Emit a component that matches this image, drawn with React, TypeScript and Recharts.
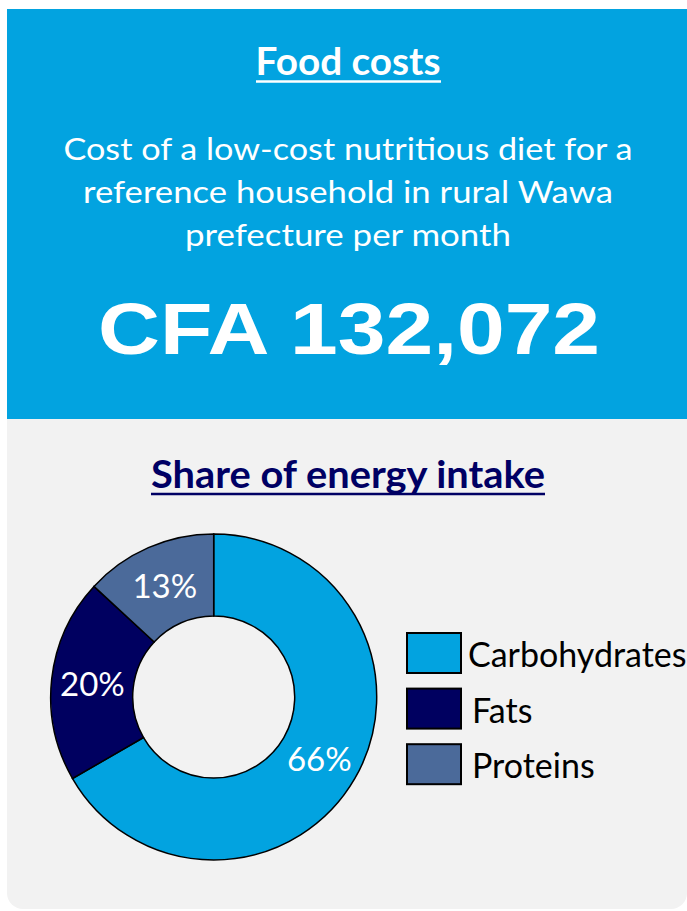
import { PieChart, Pie, Cell, Legend } from 'recharts';

const categories = ['Carbohydrates', 'Fats', 'Proteins'];
const shares = [66, 20, 13];
const sliceColors = ['#02A3E0', '#000060', '#4B6A9A'];

const headline = 'Food costs';
const subtitleLines = [
  'Cost of a low-cost nutritious diet for a',
  'reference household in rural Wawa',
  'prefecture per month',
];
const costLabel = 'CFA 132,072';
const chartTitle = 'Share of energy intake';

const BLUE = '#02A3E0';
const GREY = '#F2F2F2';
const NAVY = '#000064';
const FONT = 'Lato, "Open Sans", sans-serif';
const RAD = Math.PI / 180;

const chartData = categories.map((name, i) => ({ name, value: shares[i] }));

function renderLabel(props: any) {
  const { cx, cy, midAngle, innerRadius, outerRadius, value } = props;
  const r = (innerRadius + outerRadius) / 2;
  const x = cx + r * Math.cos(-midAngle * RAD);
  const y = cy + r * Math.sin(-midAngle * RAD);
  return (
    <text x={x} y={y} fill="#fff" textAnchor="middle" dominantBaseline="central"
      fontFamily={FONT} fontSize={33}>
      {`${value}%`}
    </text>
  );
}

function LegendBoxes(props: any) {
  const items = props.payload || [];
  return (
    <svg width={290} height={180}>
      {items.map((item: any, i: number) => (
        <g key={item.value} transform={`translate(2, ${2 + i * 55.6})`}>
          <rect width={54} height={40} fill={item.color} stroke="#000" strokeWidth={2} />
          <text x={i === 0 ? 61 : 65} y={34} fontFamily={FONT} fontSize={34} fill="#000">
            {item.value}
          </text>
        </g>
      ))}
    </svg>
  );
}

export default function App() {
  return (
    <div style={{ position: 'absolute', left: 7, top: 9, width: 680, fontFamily: FONT }}>
      <div style={{ width: 680, height: 410, background: BLUE }}>
        <svg width={680} height={410}>
          <text x={341} y={66} textAnchor="middle" fill="#fff" fontFamily={FONT}
            fontWeight={700} fontSize={38} textLength={185} lengthAdjust="spacingAndGlyphs">
            {headline}
          </text>
          <line x1={249} x2={434} y1={72.5} y2={72.5} stroke="#fff" strokeWidth={2.5} />
          {subtitleLines.map((line, i) => (
            <text key={line} x={341} y={150.5 + i * 43} textAnchor="middle" fill="#fff"
              fontFamily={FONT} fontSize={30}
              textLength={[569, 530, 326][i]} lengthAdjust="spacingAndGlyphs">
              {line}
            </text>
          ))}
          <text x={342} y={345} textAnchor="middle" fill="#fff"
            fontFamily='"Liberation Sans", Arial, sans-serif' fontWeight={700} fontSize={73}
            textLength={502} lengthAdjust="spacingAndGlyphs">
            {costLabel}
          </text>
        </svg>
      </div>
      <div style={{
        position: 'relative', width: 680, height: 490, background: GREY,
        borderBottomLeftRadius: 16, borderBottomRightRadius: 16,
      }}>
        <svg width={680} height={100} style={{ position: 'absolute', left: 0, top: 0 }}>
          <text x={341} y={69} textAnchor="middle" fill={NAVY} fontFamily={FONT}
            fontWeight={700} fontSize={38} textLength={394} lengthAdjust="spacingAndGlyphs">
            {chartTitle}
          </text>
          <line x1={144} x2={538} y1={75} y2={75} stroke={NAVY} strokeWidth={2.5} />
        </svg>
        <div style={{ position: 'absolute', left: 0, top: 0 }}>
          <PieChart width={680} height={490} margin={{ top: 0, right: 0, bottom: 0, left: 0 }}>
            <Pie
              data={chartData}
              dataKey="value"
              nameKey="name"
              cx={206.7}
              cy={278}
              innerRadius={81}
              outerRadius={163}
              startAngle={90}
              endAngle={-270}
              stroke="#000"
              strokeWidth={1.5}
              label={renderLabel}
              labelLine={false}
              isAnimationActive={false}
            >
              {chartData.map((d, i) => (
                <Cell key={d.name} fill={sliceColors[i]} />
              ))}
            </Pie>
            <Legend
              content={<LegendBoxes />}
              wrapperStyle={{ position: 'absolute', left: 398, top: 212, width: 290 }}
            />
          </PieChart>
        </div>
      </div>
    </div>
  );
}
